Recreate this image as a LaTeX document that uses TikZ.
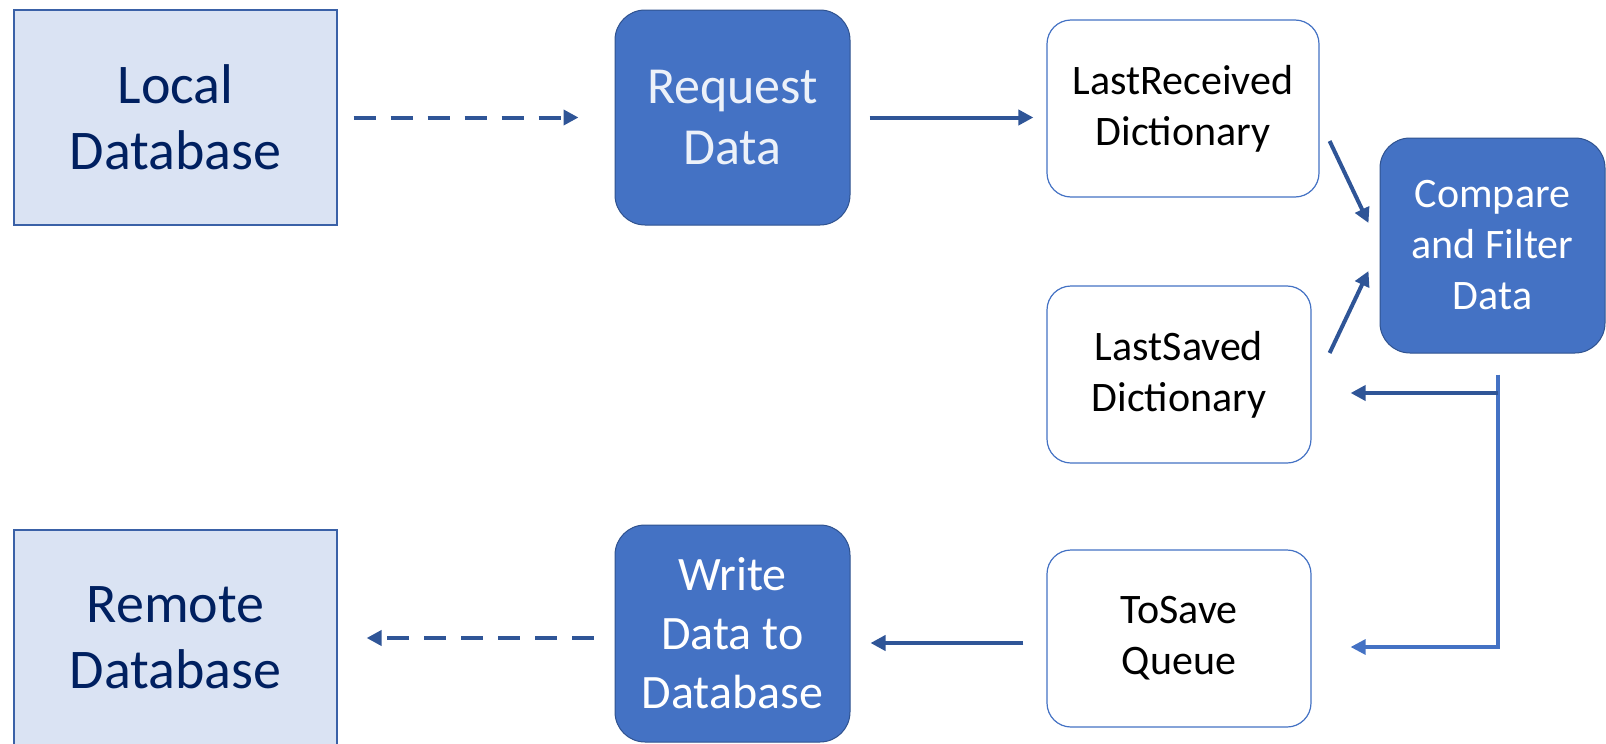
\documentclass[tikz,border=0pt]{standalone}
\usepackage{fontspec}
\setmainfont{Carlito}
\usetikzlibrary{arrows.meta,positioning}
\definecolor{boxblue}{HTML}{4472C4}
\definecolor{edgeblue}{HTML}{2F528F}
\definecolor{arrowblue}{HTML}{2F5597}
\definecolor{paleblue}{HTML}{DAE3F3}
\definecolor{navytext}{HTML}{002060}
\tikzset{
    store/.style={rectangle, draw=boxblue!85!black, line width=0.6pt, fill=paleblue, text=navytext, font=\fontsize{28}{33}\selectfont, align=center, minimum width=161.5pt, minimum height=107.5pt},
    task/.style={rectangle, rounded corners=15pt, draw=edgeblue, line width=0.5pt, fill=boxblue, text=white, align=center, minimum width=117.5pt, minimum height=107.5pt},
    buffer/.style={rectangle, rounded corners=12pt, draw=boxblue, line width=0.6pt, fill=white, text=black, font=\fontsize{21}{25.5}\selectfont, align=center, minimum height=88.5pt},
    tip/.style={-{Triangle[length=7.5pt,width=7.5pt]}},
    flow/.style={tip, draw=arrowblue, line width=2pt},
    link/.style={flow, dash pattern=on 11pt off 7.5pt},
    feed/.style={tip, draw=boxblue, line width=1.6pt}
}

\begin{document}
\begin{tikzpicture}[x=0.5pt, y=-0.5pt]
\useasboundingbox (0,0) rectangle (1606,744);

% Stores
\node[store] (localdb) at (175.5,117.5) {Local\\Database};
\node[store] (remotedb) at (175.5,637.5) {Remote\\Database};

% Tasks
\node[task, font=\fontsize{26}{30.5}\selectfont, text=white!90!boxblue] (request) at (732.5,117.5) {Request\\Data};
\node[task, font=\fontsize{21}{25.5}\selectfont, minimum width=112.5pt] (compare) at (1492.5,245.5) {Compare\\and Filter\\Data};
\node[task, font=\fontsize{24}{29.5}\selectfont, minimum height=108.5pt] (write) at (732.5,633.5) {Write\\Data to\\Database};

% Buffers
\node[buffer, minimum width=136pt] (lastrec) at (1183,108.5) {LastReceived\\Dictionary};
\node[buffer, minimum width=132pt] (lastsaved) at (1179,374.5) {LastSaved\\Dictionary};
\node[buffer, minimum width=132pt] (tosave) at (1179,638.5) {ToSave\\Queue};

% Draw arrows
\draw[link, shorten <=8pt, shorten >=18pt] (localdb.east) -- (request.west);
\draw[flow, shorten <=9.5pt, shorten >=6.5pt] (request.east) -- (request.east -| lastrec.west);
\draw[flow] ([xshift=5pt,yshift=-16.25pt]lastrec.east) -- ([xshift=-5.5pt,yshift=11.25pt]compare.west);
\draw[flow] ([xshift=9pt,yshift=10.75pt]lastsaved.east) -- ([xshift=-5.5pt,yshift=-12.75pt]compare.west);

% Split the filtered data
\coordinate (fork) at ([xshift=2.75pt,yshift=-10.5pt]compare.south);
\coordinate (ls in) at ([xshift=19.5pt,yshift=-9.25pt]lastsaved.east);
\coordinate (ts in) at ([xshift=19.5pt,yshift=-4.25pt]tosave.east);
\draw[feed] (fork) |- (ts in);
\draw[flow] (fork |- ls in) -- (ls in);

\draw[flow, shorten <=11.5pt, shorten >=10pt] ([yshift=-2.25pt]tosave.west) -- ([yshift=-2.25pt]tosave.west -| write.east);
\draw[link, shorten <=10.5pt, shorten >=14.5pt] ([yshift=-2.25pt]write.west) -- ([yshift=-2.25pt]write.west -| remotedb.east);

\end{tikzpicture}
\end{document}
